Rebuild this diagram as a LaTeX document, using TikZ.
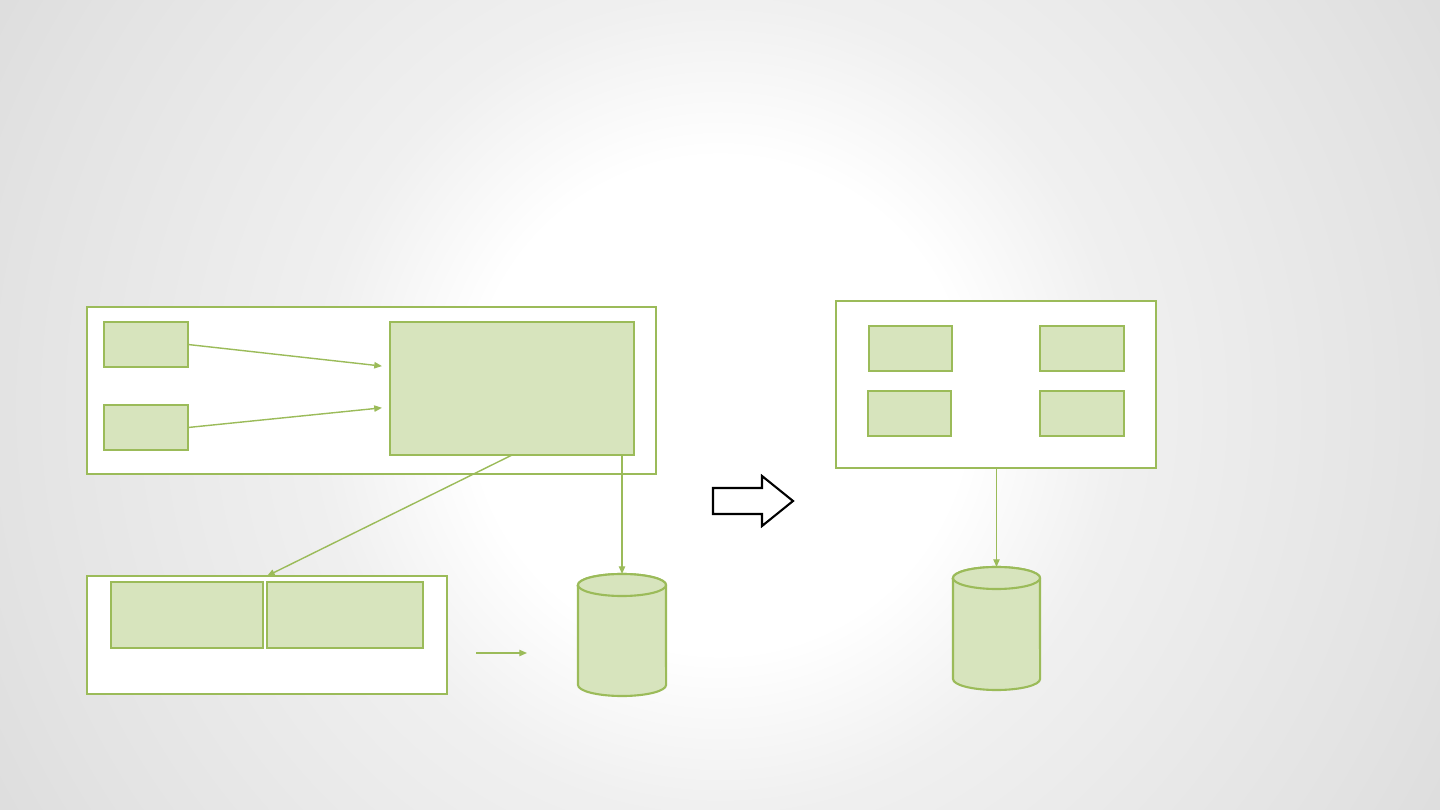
\documentclass[tikz,border=0pt]{standalone}
\usetikzlibrary{arrows.meta}
\definecolor{lineg}{HTML}{9BBB59}
\definecolor{fillg}{HTML}{D7E4BD}
\pgfdeclareradialshading{glow}{\pgfpoint{0bp}{0bp}}{color(0bp)=(white); color(15bp)=(white);
  color(24.5bp)=(black!6); color(43.6bp)=(black!11); color(50bp)=(black!13)}
\tikzset{
  >={Triangle[length=2.2pt,width=1.8pt]},
  frame/.style={draw=lineg,fill=white,line width=0.6pt,inner sep=0pt,outer sep=0pt},
  part/.style={draw=lineg,fill=fillg,line width=0.6pt,inner sep=0pt,outer sep=0pt},
  store/.style={draw=lineg,fill=fillg,line width=0.6pt},
  link/.style={draw=lineg,line width=0.4pt}
}
\begin{document}
\begin{tikzpicture}[x=0.01cm,y=-0.01cm]
    \useasboundingbox (0,0) rectangle (1440,810);
    \fill [black!13] (0,0) rectangle (1440,810);
    \begin{scope}
      \clip (0,0) rectangle (1440,810);
      \pgftransformshift{\pgfpointxy{720}{405}}
      \pgftransformscale{4.665}
      \pgflowlevelsynccm
      \pgfuseshading{glow}
    \end{scope}
    % left side
    \node [frame,minimum width=5.69cm,minimum height=1.67cm] (appa) at (371.5,390.5) {};
    \node [part,minimum width=0.84cm,minimum height=0.45cm] (srca) at (146,344.5) {};
    \node [part,minimum width=0.84cm,minimum height=0.45cm] (srcb) at (146,427.5) {};
    \node [part,minimum width=2.44cm,minimum height=1.33cm] (core) at (512,388.5) {};
    \node [frame,minimum width=3.60cm,minimum height=1.18cm] (appb) at (267,635) {};
    \node [part,minimum width=1.52cm,minimum height=0.66cm] (moda) at (187,615) {};
    \node [part,minimum width=1.56cm,minimum height=0.66cm] (modb) at (345,615) {};
    % database
    \draw [store] (578,585) -- (578,685) arc [start angle=180,end angle=360,x radius=0.44cm,y radius=0.11cm]
      -- (666,585) arc [start angle=0,end angle=180,x radius=0.44cm,y radius=0.11cm] -- cycle;
    \draw [store] (622,585) ellipse [x radius=0.44cm,y radius=0.11cm];
    \coordinate (dba) at (622,574);
    \coordinate (s1) at (476,653);
    \coordinate (s2) at (527,653);
    \draw [->,link,shorten >=0.08cm] (srca.east) -- ([yshift=0.215cm]core.west);
    \draw [->,link,shorten >=0.08cm] (srcb.east) -- ([yshift=-0.185cm]core.west);
    \draw [->,link] (core.south) -- (appb.north);
    \draw [->,link] (core.south -| dba) -- (dba);
    \draw [->,link] (s1) -- (s2);
    % block arrow
    \draw [line width=0.6pt,fill=white] (713,488) -- (762,488) -- (762,476) -- (793,501)
      -- (762,526) -- (762,514) -- (713,514) -- cycle;
    % right side
    \node [frame,minimum width=3.20cm,minimum height=1.67cm] (appc) at (996,384.5) {};
    \node [part,minimum width=0.83cm,minimum height=0.45cm] (sva) at (910.5,348.5) {};
    \node [part,minimum width=0.84cm,minimum height=0.45cm] (svb) at (1082,348.5) {};
    \node [part,minimum width=0.83cm,minimum height=0.45cm] (svc) at (909.5,413.5) {};
    \node [part,minimum width=0.84cm,minimum height=0.45cm] (svd) at (1082,413.5) {};
    \draw [store] (953,578) -- (953,679) arc [start angle=180,end angle=360,x radius=0.435cm,y radius=0.11cm]
      -- (1040,578) arc [start angle=0,end angle=180,x radius=0.435cm,y radius=0.11cm] -- cycle;
    \draw [store] (996.5,578) ellipse [x radius=0.435cm,y radius=0.11cm];
    \coordinate (dbb) at (996.5,567);
    \draw [->,link] (appc.south -| dbb) -- (dbb);
  \end{tikzpicture}
\end{document}
